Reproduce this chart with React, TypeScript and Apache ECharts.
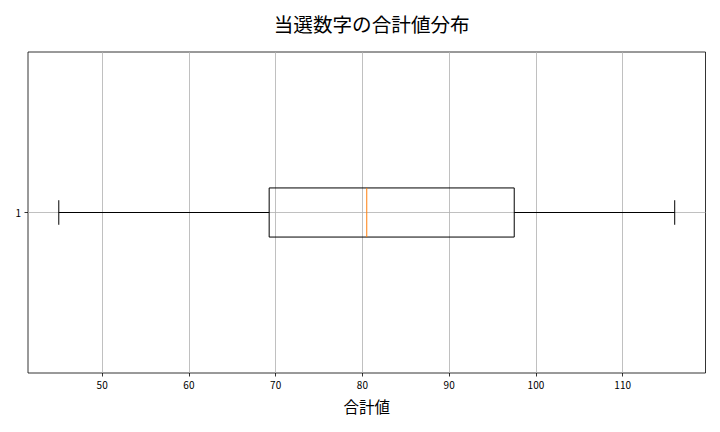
import React, { useEffect, useRef } from "react";
import * as echarts from "echarts";

const categories = ["1"];
const whiskerLow = [45];
const q1 = [69.25];
const median = [80.5];
const q3 = [97.5];
const whiskerHigh = [116];
const xTicks = [50, 60, 70, 80, 90, 100, 110];
const xMin = 41.45;
const xMax = 119.55;

const FONT = "'Noto Sans CJK JP', 'Noto Sans', sans-serif";

export default function App() {
  const ref = useRef<HTMLDivElement>(null);

  useEffect(() => {
    if (!ref.current) return;
    const chart = echarts.init(ref.current, undefined, { renderer: "svg" });
    const data = categories.map((_, i) => [
      i,
      whiskerLow[i],
      q1[i],
      median[i],
      q3[i],
      whiskerHigh[i],
    ]);

    const renderItem = (params: any, api: any) => {
      const cat = api.value(0);
      const pLo = api.coord([api.value(1), cat]);
      const pA = api.coord([api.value(2), cat]);
      const pM = api.coord([api.value(3), cat]);
      const pB = api.coord([api.value(4), cat]);
      const pHi = api.coord([api.value(5), cat]);
      const band = api.size([0, 1])[1];
      const halfBox = band * 0.0765;
      const halfCap = halfBox / 2;
      const y = pLo[1];
      const cs = params.coordSys;
      const black = { stroke: "#000", lineWidth: 1 };
      return {
        type: "group",
        children: [
          {
            type: "line",
            shape: { x1: cs.x, y1: y, x2: cs.x + cs.width, y2: y },
            style: { stroke: "#b0b0b0", lineWidth: 0.8 },
          },
          { type: "line", shape: { x1: pLo[0], y1: y, x2: pA[0], y2: y }, style: black },
          { type: "line", shape: { x1: pB[0], y1: y, x2: pHi[0], y2: y }, style: black },
          { type: "line", shape: { x1: pLo[0], y1: y - halfCap, x2: pLo[0], y2: y + halfCap }, style: black },
          { type: "line", shape: { x1: pHi[0], y1: y - halfCap, x2: pHi[0], y2: y + halfCap }, style: black },
          {
            type: "rect",
            shape: { x: pA[0], y: y - halfBox, width: pB[0] - pA[0], height: halfBox * 2 },
            style: { fill: "transparent", stroke: "#000", lineWidth: 1 },
          },
          {
            type: "line",
            shape: { x1: pM[0], y1: y - halfBox, x2: pM[0], y2: y + halfBox },
            style: { stroke: "#ff7f0e", lineWidth: 1 },
          },
        ],
      };
    };

    chart.setOption({
      animation: false,
      backgroundColor: "#fff",
      title: {
        text: "当選数字の合計値分布",
        left: 366.7,
        textAlign: "center",
        top: 9,
        textStyle: { fontFamily: FONT, fontSize: 19.6, fontWeight: "normal", color: "#000" },
      },
      grid: {
        left: 28,
        right: 14.5,
        top: 52,
        bottom: 59,
        show: true,
        borderColor: "#000",
        borderWidth: 0.8,
        backgroundColor: "transparent",
      },
      xAxis: {
        type: "value",
        min: xMin,
        max: xMax,
        name: "合計値",
        nameLocation: "middle",
        nameGap: 25,
        nameTextStyle: { fontFamily: FONT, fontSize: 15.5, color: "#000" },
        axisLine: { show: false },
        axisTick: { show: true, length: 3.5, customValues: xTicks, lineStyle: { color: "#000", width: 0.8 } },
        axisLabel: { customValues: xTicks, fontFamily: FONT, fontSize: 10, color: "#000", margin: 6 },
        splitLine: { show: true, lineStyle: { color: "#b0b0b0", width: 0.8 } },
      },
      yAxis: {
        type: "category",
        data: categories,
        axisLine: { show: false },
        axisTick: { show: true, alignWithLabel: true, length: 3.5, lineStyle: { color: "#000", width: 0.8 } },
        axisLabel: { fontFamily: FONT, fontSize: 10, color: "#000", margin: 7 },
        splitLine: { show: false },
      },
      series: [
        {
          type: "custom",
          renderItem,
          data,
          encode: { x: [1, 2, 3, 4, 5], y: 0 },
          z: 3,
        },
      ],
    });
    return () => chart.dispose();
  }, []);

  return <div ref={ref} style={{ width: 720, height: 432, position: "absolute", left: 0, top: 0 }} />;
}
